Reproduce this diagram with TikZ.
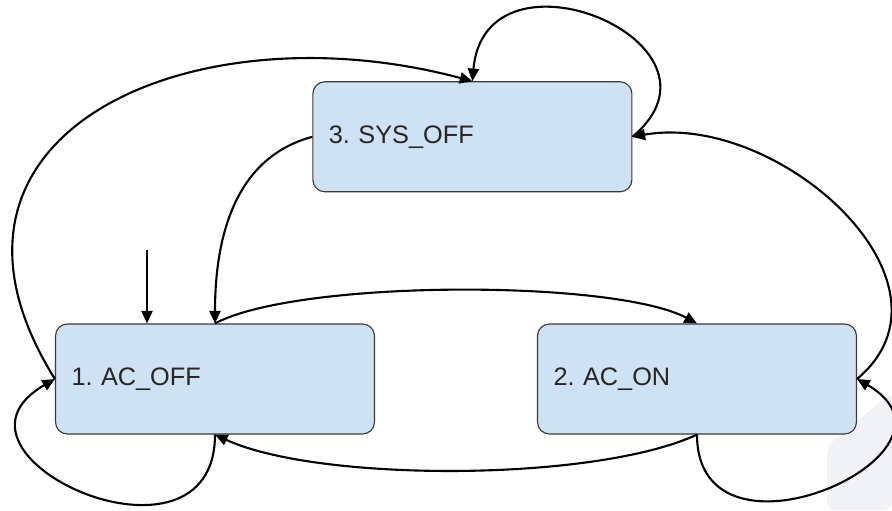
\documentclass[tikz,border=0pt]{standalone}
\usepackage{fontspec}
\setmainfont{Liberation Sans}
\usepackage{xcolor}
\usetikzlibrary{positioning,arrows.meta}

\definecolor{boxfill}{HTML}{CFE2F3}
\definecolor{boxline}{HTML}{3A3A3A}
\definecolor{haze}{HTML}{F1F1F8}

\frenchspacing

\begin{document}
\begin{tikzpicture}[
      x=1cm, y=1cm,
      statebox/.style={draw=boxline, line width=0.8pt, fill=boxfill, rounded corners=8.5pt,
        minimum width=7.975cm, minimum height=2.75cm, inner xsep=0.4cm, inner ysep=0pt,
        text width=7.175cm, align=left, text=black!85, font=\fontsize{18}{21}\selectfont},
      trans/.style={-{Triangle[length=9pt,width=8pt]}, line width=1.5pt}
  ]
    \useasboundingbox (0,0) rectangle (22.3,12.75);
    \fill[haze, rounded corners=6pt] (20.675,0) -- (20.675,1.6) -- (22.3,2.95) -- (22.3,0) -- cycle;

    \node[statebox] (sysoff) at (11.81,9.33) {3. SYS\_OFF};
    \node[statebox] (acoff) at (5.375,3.275) {1. AC\_OFF};
    \node[statebox] (acon) at (17.425,3.275) {2. AC\_ON};
    \coordinate (init) at (3.675,6.5);

    \draw[trans] (init) -- (init |- acoff.north);
    \draw[trans] (sysoff.west) to[out=195, in=90] (acoff.north);
    \draw[trans] (acoff.north) to[out=28, in=152, looseness=0.5] (acon.north);
    \draw[trans] (acon.south) to[out=205, in=-25, looseness=0.6] (acoff.south);
    \draw[trans] (acoff.west) to[out=122, in=165, looseness=1.45] (sysoff.north);
    \draw[trans] (acon.east) to[out=40, in=10, looseness=1.15] (sysoff.east);
    % self loops
    \draw[trans] (sysoff.east) to[out=40, in=85, looseness=2.2] (sysoff.north);
    \draw[trans] (acoff.south) to[out=-90, in=210, looseness=2.3] (acoff.west);
    \draw[trans] (acon.south) to[out=-90, in=-30, looseness=2.2] (acon.east);
  \end{tikzpicture}
\end{document}
